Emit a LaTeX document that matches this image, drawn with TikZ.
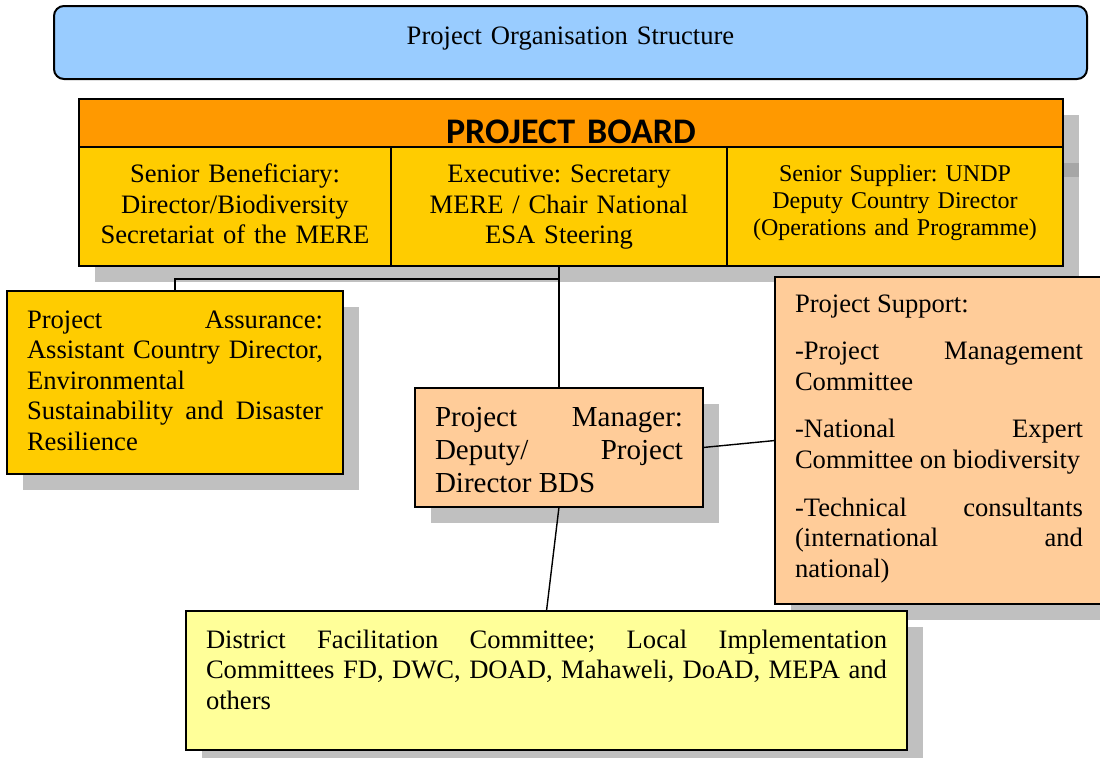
\documentclass[tikz,border=0pt]{standalone}
\usepackage{fontspec}
\setmainfont{Liberation Serif}
\newfontfamily\boardfont{Carlito}
\usetikzlibrary{shadows}
\frenchspacing
\definecolor{sky}{HTML}{99CCFF}
\definecolor{boardorange}{HTML}{FF9900}
\definecolor{gold}{HTML}{FFCC00}
\definecolor{peach}{HTML}{FFCC99}
\definecolor{lemon}{HTML}{FFFF99}
\definecolor{shadowgray}{HTML}{C0C0C0}
\definecolor{shadowdark}{HTML}{A6A6A6}

\begin{document}
\begin{tikzpicture}[x=0.5pt,y=-0.5pt,
  box/.style={draw,line width=1pt,outer sep=0pt,anchor=north west,inner xsep=10pt,inner ysep=0pt,
    font=\fontsize{13.3}{15.3}\selectfont},
  shadowed/.style={drop shadow={shadow xshift=8pt,shadow yshift=-8pt,fill=shadowgray,opacity=1}},
  cell/.style={box,fill=gold,inner xsep=0pt,align=center,text height=17.75pt,text depth=41.75pt},
  link/.style={line width=0.7pt}]
  \useasboundingbox (0,0) rectangle (1100,757);
  \node[box,rounded corners=5pt,fill=sky,inner xsep=0pt,text width=516.5pt,align=center,
    text height=19pt,text depth=17.5pt] (title) at (54,6) {Project Organisation Structure};
  % board shadow
  \fill[shadowgray] (95,115) rectangle (1079,282);
  \fill[shadowdark] (1063,163) rectangle (1079,177);
  \node[box,fill=boardorange,inner xsep=0pt,text width=492pt,align=center,text height=22pt,text depth=2pt,
    font=\boardfont\bfseries\fontsize{18}{20}\selectfont] (board) at (79,99) {PROJECT BOARD};
  \node[cell,text width=156pt] (beneficiary) at (board.south west)
    {Senior Beneficiary:\\Director/Biodiversity\\Secretariat of the MERE};
  \node[cell,text width=168pt] (executive) at (beneficiary.north east)
    {Executive: Secretary\\MERE / Chair National\\ESA Steering};
  \node[cell,text width=168pt,text height=17pt,text depth=42.5pt,font=\fontsize{12}{13.6}\selectfont]
    (supplier) at (executive.north east)
    {Senior Supplier: UNDP\\Deputy Country Director\\(Operations and Programme)};
  \node[box,shadowed,fill=gold,text width=148pt,align=justify,text height=18.5pt,text depth=73pt]
    (assurance) at (7,291)
    {Project Assurance:\linebreak Assistant Country Director,\linebreak Environmental\newline
     Sustainability and Disaster\linebreak Resilience};
  \node[box,shadowed,fill=peach,text width=124pt,align=justify,text height=19pt,text depth=40.5pt,
    font=\fontsize{14.5}{16.5}\selectfont] (manager) at (415,388)
    {Project Manager:\linebreak Deputy/ Project\linebreak Director BDS};
  \node[box,shadowed,fill=peach,text width=144pt,align=justify,text height=17.5pt,text depth=146pt]
    (support) at (775,277)
    {\setlength{\parskip}{8.5pt}Project Support:\par
     -Project Management\linebreak Committee\par
     -National Expert\linebreak Committee on biodiversity\par
     -Technical consultants\linebreak (international and\linebreak national)};
  \node[box,shadowed,fill=lemon,text width=340.5pt,align=justify,text height=18.5pt,text depth=51pt]
    (committees) at (186,611)
    {District Facilitation Committee; Local Implementation\linebreak
     Committees FD, DWC, DOAD, Mahaweli, DoAD, MEPA and\linebreak others};
  % connectors
  \coordinate (split) at (559,279);
  \draw[link] (executive.south) -- (manager.north);
  \draw[link] (assurance.north) |- (split);
  \draw[link] (manager.south) -- (committees.north);
  \draw[link] (manager.east) -- (support.west);
\end{tikzpicture}
\end{document}
